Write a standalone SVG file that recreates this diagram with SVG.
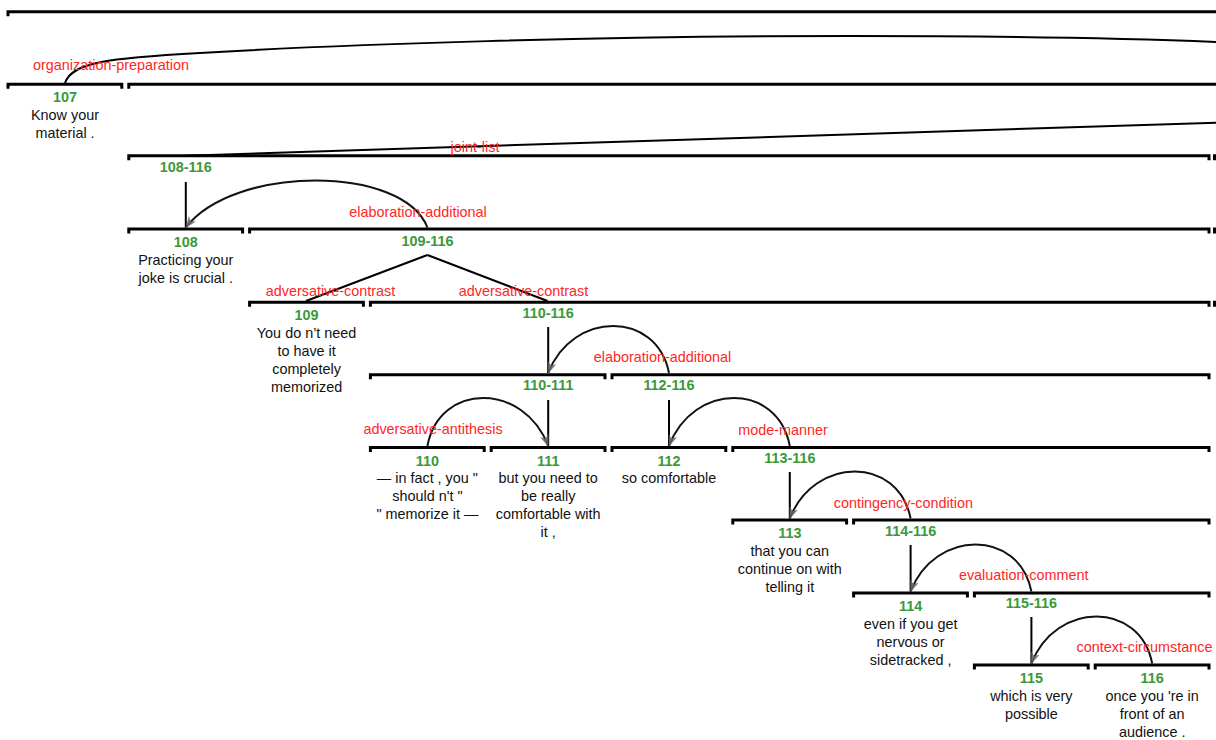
<svg xmlns="http://www.w3.org/2000/svg" width="1216" height="740" viewBox="0 0 1216 740">
  <style>
    .seg { fill: none; stroke: #000; stroke-width: 3; stroke-linejoin: miter; }
    .edge { fill: none; stroke: #000; stroke-width: 2; }
    .arc { fill: none; stroke: #111; stroke-width: 2; marker-end: url(#head); }
    text { font-family: "Liberation Sans", Arial, Helvetica, sans-serif; font-size: 14.4px; text-anchor: middle; }
    .num { fill: #3a993a; font-weight: bold; }
    .txt { fill: #111; }
    .rel { fill: #ff2626; }
  </style>
  <defs>
    <marker id="head" viewBox="0 0 12 10" refX="11" refY="5" markerWidth="12" markerHeight="10" markerUnits="userSpaceOnUse" orient="auto">
      <path d="M0,0.5 L11.5,5 L0,9.5 L3,5 Z" fill="#666" fill-opacity="0.85"/>
    </marker>
  </defs>
  <rect width="1216" height="740" fill="#fff"/>

  <!-- top-level span, continues past the right edge -->
  <g id="span-top">
    <path class="seg" d="M8,16.2 V11.7 H1220"/>
  </g>

  <!-- row 1 -->
  <g id="seg-107">
    <path class="seg" d="M8,88.8 V84.3 H121.8 V88.8"/>
    <text class="num" x="65" y="101.8">107</text>
    <text class="txt" x="65" y="120">Know your</text>
    <text class="txt" x="65" y="138">material .</text>
  </g>
  <g id="span-108-end">
    <path class="seg" d="M128.8,88.8 V84.3 H1220"/>
  </g>

  <!-- row 2 -->
  <g id="span-108-116">
    <path class="seg" d="M128.8,160.2 V155.7 H1209 V160.2"/>
    <path class="seg" d="M1214.5,160.2 V155.7 H1220"/>
    <text class="num" x="185.8" y="172">108-116</text>
  </g>

  <!-- row 3 -->
  <g id="seg-108">
    <path class="seg" d="M128.8,233.5 V229 H242.6 V233.5"/>
    <text class="num" x="185.8" y="247">108</text>
    <text class="txt" x="185.8" y="265">Practicing your</text>
    <text class="txt" x="185.8" y="283">joke is crucial .</text>
  </g>
  <g id="span-109-116">
    <path class="seg" d="M249.6,233.5 V229 H1209 V233.5"/>
    <path class="seg" d="M1214.5,233.5 V229 H1220"/>
    <text class="num" x="427.4" y="246">109-116</text>
  </g>

  <!-- row 4 -->
  <g id="seg-109">
    <path class="seg" d="M249.6,306.8 V302.3 H363.4 V306.8"/>
    <text class="num" x="306.6" y="320">109</text>
    <text class="txt" x="306.6" y="337.8">You do n’t need</text>
    <text class="txt" x="306.6" y="355.8">to have it</text>
    <text class="txt" x="306.6" y="373.8">completely</text>
    <text class="txt" x="306.6" y="391.8">memorized</text>
  </g>
  <g id="span-110-116">
    <path class="seg" d="M370.4,306.8 V302.3 H1209 V306.8"/>
    <path class="seg" d="M1214.5,306.8 V302.3 H1220"/>
    <text class="num" x="548.2" y="317.8">110-116</text>
  </g>

  <!-- row 5 -->
  <g id="span-110-111">
    <path class="seg" d="M370.4,379.2 V374.7 H605 V379.2"/>
    <text class="num" x="548.2" y="390.2">110-111</text>
  </g>
  <g id="span-112-116">
    <path class="seg" d="M612,379.2 V374.7 H1209 V379.2"/>
    <text class="num" x="669" y="390.2">112-116</text>
  </g>

  <!-- row 6 -->
  <g id="seg-110">
    <path class="seg" d="M370.4,452 V447.5 H484.2 V452"/>
    <text class="num" x="427.4" y="465.8">110</text>
    <text class="txt" x="427.4" y="483.3">— in fact , you "</text>
    <text class="txt" x="427.4" y="501.3">should n't "</text>
    <text class="txt" x="427.4" y="519.3">" memorize it —</text>
  </g>
  <g id="seg-111">
    <path class="seg" d="M491.2,452 V447.5 H605 V452"/>
    <text class="num" x="548.2" y="465.8">111</text>
    <text class="txt" x="548.2" y="483.3">but you need to</text>
    <text class="txt" x="548.2" y="501.3">be really</text>
    <text class="txt" x="548.2" y="519.3">comfortable with</text>
    <text class="txt" x="548.2" y="537.3">it ,</text>
  </g>
  <g id="seg-112">
    <path class="seg" d="M612,452 V447.5 H725.8 V452"/>
    <text class="num" x="669" y="465.8">112</text>
    <text class="txt" x="669" y="483.3">so comfortable</text>
  </g>
  <g id="span-113-116">
    <path class="seg" d="M732.8,452 V447.5 H1209 V452"/>
    <text class="num" x="789.8" y="462.8">113-116</text>
  </g>

  <!-- row 7 -->
  <g id="seg-113">
    <path class="seg" d="M732.8,524.5 V520 H846.6 V524.5"/>
    <text class="num" x="789.8" y="537.8">113</text>
    <text class="txt" x="789.8" y="555.5">that you can</text>
    <text class="txt" x="789.8" y="573.5">continue on with</text>
    <text class="txt" x="789.8" y="591.5">telling it</text>
  </g>
  <g id="span-114-116">
    <path class="seg" d="M853.6,524.5 V520 H1209 V524.5"/>
    <text class="num" x="910.6" y="536">114-116</text>
  </g>

  <!-- row 8 -->
  <g id="seg-114">
    <path class="seg" d="M853.6,597.5 V593 H967.4 V597.5"/>
    <text class="num" x="910.6" y="610.8">114</text>
    <text class="txt" x="910.6" y="628.5">even if you get</text>
    <text class="txt" x="910.6" y="646.5">nervous or</text>
    <text class="txt" x="910.6" y="664.5">sidetracked ,</text>
  </g>
  <g id="span-115-116">
    <path class="seg" d="M974.4,597.5 V593 H1209 V597.5"/>
    <text class="num" x="1031.4" y="608.4">115-116</text>
  </g>

  <!-- row 9 -->
  <g id="seg-115">
    <path class="seg" d="M974.4,669.5 V665 H1088.2 V669.5"/>
    <text class="num" x="1031.4" y="683.3">115</text>
    <text class="txt" x="1031.4" y="700.5">which is very</text>
    <text class="txt" x="1031.4" y="718.5">possible</text>
  </g>
  <g id="seg-116">
    <path class="seg" d="M1095.2,669.5 V665 H1209 V669.5"/>
    <text class="num" x="1152.2" y="683.3">116</text>
    <text class="txt" x="1152.2" y="700.5">once you 're in</text>
    <text class="txt" x="1152.2" y="718.5">front of an</text>
    <text class="txt" x="1152.2" y="736.5">audience .</text>
  </g>

  <!-- relations -->
  <g id="connectors">
    <!-- satellite 107 to its nucleus further right -->
    <path class="edge" d="M65,83 C72,62 110,58 200,53 C350,44 600,36 850,36 C1000,36 1120,38 1218,42"/>
    <!-- multinuclear joint-list -->
    <path class="edge" d="M185.8,155.7 L1218,122.6"/>
    <!-- multinuclear adversative-contrast under 109-116 -->
    <path class="edge" d="M427.4,255 L306,301"/>
    <path class="edge" d="M427.4,255 L547.5,301"/>

    <!-- nucleus links of each span -->
    <path class="edge" d="M185.8,182 V227.5"/>
    <path class="edge" d="M548.2,327 V373"/>
    <path class="edge" d="M548.2,400 V446"/>
    <path class="edge" d="M669,400 V446"/>
    <path class="edge" d="M789.8,472 V518.5"/>
    <path class="edge" d="M910.6,545 V591.5"/>
    <path class="edge" d="M1031.4,617 V663.5"/>

    <!-- satellite arcs -->
    <path class="arc" d="M427.4,227.5 C403.2,164.8 234.1,164.8 185.8,227.5"/>
    <path class="arc" d="M669,373 C656.9,310.3 572.4,310.3 548.2,373"/>
    <path class="arc" d="M427.4,446 C439.5,382 524,382 548.2,446"/>
    <path class="arc" d="M789.8,446 C777.7,382 693.2,382 669,446"/>
    <path class="arc" d="M910.6,518.5 C898.5,455.8 814,455.8 789.8,518.5"/>
    <path class="arc" d="M1031.4,591.5 C1019.3,528.8 934.8,528.8 910.6,591.5"/>
    <path class="arc" d="M1152.2,663.5 C1140.1,600.8 1055.6,600.8 1031.4,663.5"/>

    <!-- relation names -->
    <text class="rel" x="111" y="69.5">organization-preparation</text>
    <text class="rel" x="475" y="152">joint-list</text>
    <text class="rel" x="418" y="216.8">elaboration-additional</text>
    <text class="rel" x="330.5" y="296.3">adversative-contrast</text>
    <text class="rel" x="523.5" y="296.3">adversative-contrast</text>
    <text class="rel" x="662.5" y="362">elaboration-additional</text>
    <text class="rel" x="433" y="433.5">adversative-antithesis</text>
    <text class="rel" x="783" y="435">mode-manner</text>
    <text class="rel" x="903.3" y="507.7">contingency-condition</text>
    <text class="rel" x="1023.7" y="580.4">evaluation-comment</text>
    <text class="rel" x="1144.5" y="652">context-circumstance</text>
  </g>
</svg>
